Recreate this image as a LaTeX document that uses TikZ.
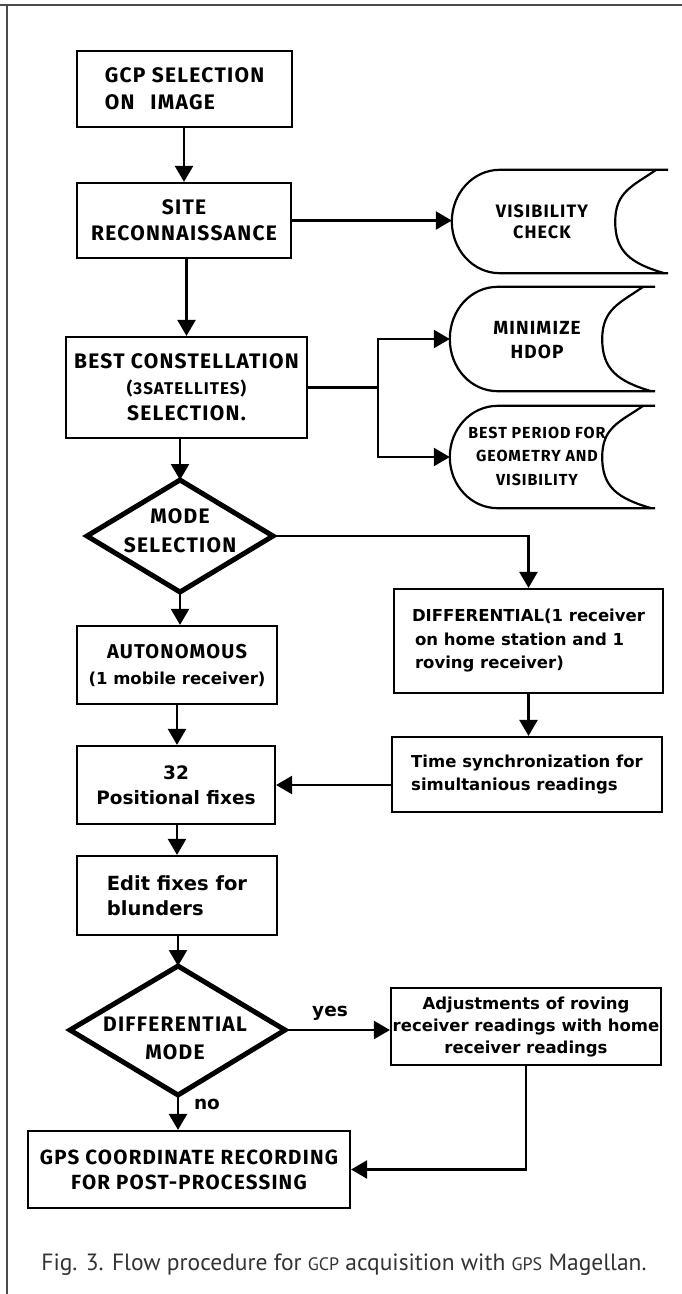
\documentclass[tikz,border=0pt]{standalone}
\usepackage{fontspec}
\setmainfont{DejaVu Sans}
\newfontfamily\capsf{Fira Sans}[LetterSpace=6.0]
\newfontfamily\captionf{PT Sans}
\usetikzlibrary{arrows.meta,calc}
\newcommand\capsz[2]{\capsf\bfseries\fontsize{#1}{#2}\selectfont}
\newcommand\lowsz[2]{\rmfamily\bfseries\fontsize{#1}{#2}\selectfont}
\newcommand\storepath[3]{%
 \draw[sline] (#1.north east) -- ($(#1.north west)+(48,0)$)
   .. controls ($(#1.north west)+(21,0)$) and ($(#1.west)+(0,-#2)$) .. (#1.west)
   .. controls ($(#1.west)+(0,#2)$) and ($(#1.south west)+(21,0)$) .. ($(#1.south west)+(48,0)$)
   -- (#1.south east);
 \draw[sline] ($(#1.north east)+(-12,0)$)
   .. controls ($(#1.north east)+(-35,16)$) and ($(#1.east)+(-#3,-30)$) .. ($(#1.east)+(-#3,0)$)
   .. controls ($(#1.east)+(-#3,30)$) and ($(#1.south east)+(-38,-10)$) .. ($(#1.south east)+(-4,0)$);
}
\begin{document}
\begin{tikzpicture}[x=1pt,y=-1pt,
  box/.style={draw, line width=2.2pt, rectangle, inner sep=0pt},
  tnode/.style={inner sep=0pt, align=center},
  snode/.style={inner sep=0pt, rectangle},
  sline/.style={line width=2.2pt},
  conn/.style={line width=2.4pt},
  arr/.style={conn, -{Triangle[length=16pt,width=18pt]}},
  dia/.style={line width=5pt, line join=miter},
  frame/.style={line width=1.6pt, black!70}]
\path[fill=white, use as bounding box] (0,0) rectangle (682,1294);
\draw[frame] (0,5) -- (682,5);
\draw[frame] (7,5) -- (7,1294);

% main column boxes
\node[box, minimum width=215, minimum height=76, align=left, font=\capsz{21}{27}] (gcp) at (184.5,89) {GCP SELECTION\\ON\hspace{16pt}IMAGE};
\node[box, minimum width=214, minimum height=75, align=center, font=\capsz{21}{26}] (site) at (184,220.5) {SITE\\RECONNAISSANCE};
\node[box, minimum width=241, minimum height=101, align=center, font=\capsz{21}{26}] (best) at (186.5,387.5) {BEST CONSTELLATION\\{\capsz{17}{26}(3SATELLITES)}\\SELECTION.};
\node[box, minimum width=200, minimum height=78, align=center, font=\capsz{20}{26}] (auto) at (177,665) {AUTONOMOUS\\{\lowsz{16.5}{26}(1 mobile receiver)}};
\node[box, minimum width=269, minimum height=104, align=left, font=\lowsz{16.5}{23.5}] (diff) at (528.5,641) {DIFFERENTIAL(1 receiver\\\hspace{3pt}on home station and 1\\\hspace{3pt}roving receiver)};
\node[box, minimum width=270, minimum height=75, align=left, font=\lowsz{16.5}{23}] (time) at (527,774.5) {Time synchronization for\\simultanious readings};
\node[box, minimum width=198, minimum height=78, align=center, font=\lowsz{18.5}{25}] (fix) at (176,785) {32\\Positional fixes};
\node[box, minimum width=200, minimum height=79, align=left, font=\lowsz{19.5}{25}] (edit) at (177,895.5) {Edit fixes for\\blunders};
\node[box, minimum width=270, minimum height=77, align=center, font=\lowsz{16.5}{22}] (adj) at (526,1026.5) {Adjustments of roving\\receiver readings with home\\receiver readings};
\node[box, minimum width=322, minimum height=77, align=center, font=\capsz{20.5}{25}] (gps) at (189,1169.5) {GPS COORDINATE RECORDING\\FOR POST-PROCESSING};

% stored-data shapes
\node[snode, minimum width=216, minimum height=103] (vis) at (560,221.5) {};
\node[tnode, font=\capsz{18}{21}] (vist) at (542,222) {VISIBILITY\\CHECK};
\node[snode, minimum width=205, minimum height=104] (mini) at (552.5,339) {};
\node[tnode, font=\capsz{19}{24}] (minit) at (537,340) {MINIMIZE\\HDOP};
\node[snode, minimum width=205, minimum height=102] (per) at (552.5,457) {};
\node[tnode, font=\capsz{16}{23.5}] (pert) at (537,456) {BEST PERIOD FOR\\GEOMETRY AND\\VISIBILITY};
\storepath{vis}{28}{53}
\storepath{mini}{29}{53}
\storepath{per}{28}{53}

% decision diamonds
\coordinate (mN) at (180,480);
\coordinate (mE) at (273,536);
\coordinate (mS) at (180,592);
\coordinate (mW) at (87,536);
\draw[dia] (mN) -- (mE) -- (mS) -- (mW) -- cycle;
\node[tnode, font=\capsz{21}{29}] (mode) at (180,531) {MODE\\SELECTION};

\coordinate (dN) at (178,966);
\coordinate (dE) at (285,1030);
\coordinate (dS) at (178,1095);
\coordinate (dW) at (70,1030);
\draw[dia] (dN) -- (dE) -- (dS) -- (dW) -- cycle;
\node[tnode, font=\capsz{21}{28}] (dmode) at (175,1038) {DIFFERENTIAL\\MODE};

% connectors
\draw[arr] (gcp.south -| site.north) -- (site.north);
\draw[arr] (site.south -| best.north) -- (best.north);
\draw[arr] (site.east) -- (site.east -| vis.west);
\coordinate (br) at (378,387.5);
\draw[conn] (best.east) -- (br);
\draw[arr] (br) |- (mini.west);
\draw[arr] (br) |- (per.west);
\draw[arr] (best.south -| mN) -- (mN);
\draw[arr] (mS) -- (mS |- auto.north);
\draw[arr] (mE) -| (diff.north);
\draw[arr] (auto.south) -- (auto.south |- fix.north);
\draw[arr] (diff.south) -- (diff.south |- time.north);
\draw[arr] (time.west |- fix.east) -- (fix.east);
\draw[arr] (fix.south -| edit.north) -- (edit.north);
\draw[arr] (dN |- edit.south) -- (dN);
\draw[arr] (dE) -- (dE -| adj.west);
\node[tnode, font=\lowsz{18.5}{22}] (yes) at (330,1013) {yes};
\draw[arr] (dS) -- (dS |- gps.north);
\node[tnode, font=\lowsz{18.5}{22}] (no) at (207,1104) {no};
\draw[arr] (adj.south) |- (gps.east);

% caption
\node[tnode, font=\captionf\fontsize{23.5}{28}\selectfont, text=black!80] (cap) at (344,1265) {Fig. 3. Flow procedure for {\fontsize{18}{22}\selectfont GCP} acquisition with {\fontsize{18}{22}\selectfont GPS} Magellan.};
\end{tikzpicture}
\end{document}
